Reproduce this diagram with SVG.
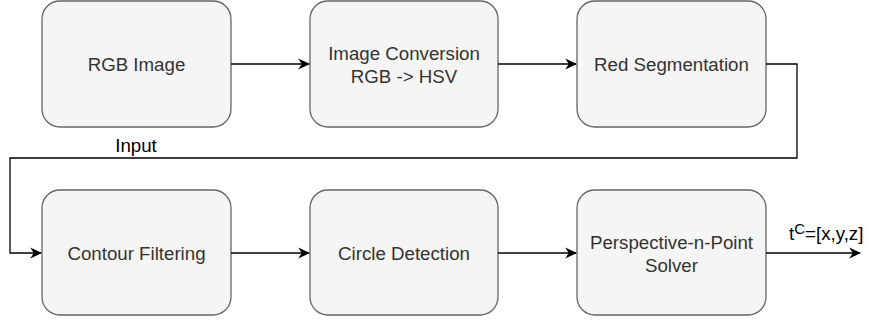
<svg xmlns="http://www.w3.org/2000/svg" width="869" height="325" viewBox="0 0 869 325">
<defs>
<style>
.box{fill:#f5f5f5;stroke:#666666;stroke-width:1.3}
.lbl{font-family:"Liberation Sans",Arial,sans-serif;font-size:18.7px;fill:#333333;text-anchor:middle}
.edge{fill:none;stroke:#000000;stroke-width:1.3}
.elbl{font-family:"Liberation Sans",Arial,sans-serif;font-size:18.7px;fill:#000000}
</style>
<marker id="arr" viewBox="0 0 10 10" refX="9" refY="5" markerWidth="12" markerHeight="12" markerUnits="userSpaceOnUse" orient="auto">
<path d="M0,0.5 L10,5 L0,9.5 L3,5 Z" fill="#000"/>
</marker>
</defs>
<g id="n1"><rect class="box" x="42" y="1" width="189" height="126" rx="18"/><text class="lbl" x="136.5" y="71">RGB Image</text></g>
<g id="n2"><rect class="box" x="310" y="1" width="188" height="126" rx="18"/><text class="lbl" x="404" y="60">Image Conversion</text><text class="lbl" x="404" y="82.5">RGB -&gt; HSV</text></g>
<g id="n3"><rect class="box" x="577" y="1" width="189" height="126" rx="18"/><text class="lbl" x="671.5" y="71">Red Segmentation</text></g>
<g id="n4"><rect class="box" x="42" y="190" width="189" height="125" rx="18"/><text class="lbl" x="136.5" y="260">Contour Filtering</text></g>
<g id="n5"><rect class="box" x="310" y="190" width="188" height="125" rx="18"/><text class="lbl" x="404" y="260">Circle Detection</text></g>
<g id="n6"><rect class="box" x="577" y="190" width="189" height="125" rx="18"/><text class="lbl" x="671.5" y="249">Perspective-n-Point</text><text class="lbl" x="671.5" y="272">Solver</text></g>
<g id="connectors">
<path class="edge" d="M231,64 H309" marker-end="url(#arr)"/>
<path class="edge" d="M498,64 H576" marker-end="url(#arr)"/>
<path class="edge" d="M766,64 H797 V158 H10 V253 H41" marker-end="url(#arr)"/>
<path class="edge" d="M231,253 H309" marker-end="url(#arr)"/>
<path class="edge" d="M498,253 H576" marker-end="url(#arr)"/>
<path class="edge" d="M766,253 H860" marker-end="url(#arr)"/>
<text class="elbl" x="136" y="152" text-anchor="middle">Input</text>
<text class="elbl" x="789" y="240">t<tspan font-size="15" dy="-6">C</tspan><tspan dy="6">=[x,y,z]</tspan></text>
</g>
</svg>
